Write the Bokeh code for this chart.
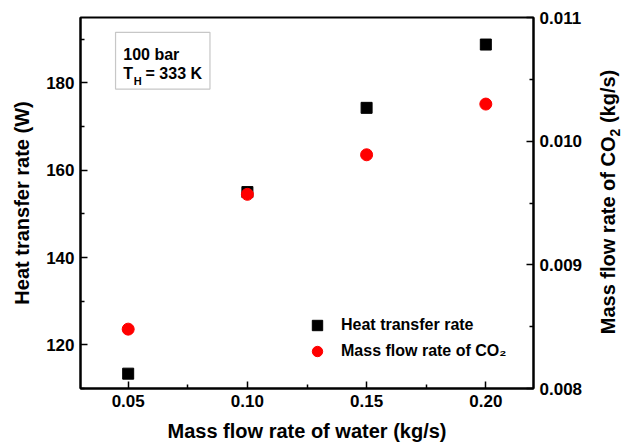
from bokeh.plotting import figure
from bokeh.layouts import row
from bokeh.models import (Range1d, LinearAxis, FixedTicker, PrintfTickFormatter,
                          Legend, LegendItem, BoxAnnotation, Label, Div)
from bokeh.embed import file_html
from bokeh.resources import INLINE

# ---- data ----
water_flow = [0.05, 0.10, 0.15, 0.20]            # kg/s
heat_rate = [113.4, 155.0, 174.3, 188.8]         # W
co2_flow = [0.00848, 0.00957, 0.00989, 0.01030]  # kg/s

x_ticks = [0.05, 0.10, 0.15, 0.20]
x_minor = [0.075, 0.125, 0.175]
y_ticks = [120, 140, 160, 180]
y_minor = [110, 130, 150, 170, 190]
y2_ticks = [0.008, 0.009, 0.010, 0.011]
y2_minor = [0.0085, 0.0095, 0.0105]

FONT = "Liberation Sans"
X0, X1 = 0.03, 0.22
Y0, Y1 = 110, 195
Y2_0, Y2_1 = 0.008, 0.011

p = figure(width=587, height=445,
           x_range=Range1d(X0, X1), y_range=Range1d(Y0, Y1),
           output_backend="svg", toolbar_location=None,
           min_border_left=80, min_border_right=54,
           min_border_top=17, min_border_bottom=57)
p.extra_y_ranges = {"co2": Range1d(Y2_0, Y2_1)}
p.xgrid.visible = False
p.ygrid.visible = False
p.outline_line_color = "black"
p.outline_line_width = 2
p.background_fill_color = "white"
p.border_fill_color = "white"


def style_axis(ax, label, ticks, minor, fmt):
    ax.axis_label = label
    ax.ticker = FixedTicker(ticks=ticks, minor_ticks=minor)
    ax.formatter = PrintfTickFormatter(format=fmt)
    ax.axis_line_width = 2
    ax.axis_line_color = "black"
    ax.major_tick_in = 7
    ax.major_tick_out = 0
    ax.minor_tick_in = 4
    ax.minor_tick_out = 0
    ax.major_tick_line_width = 1.5
    ax.minor_tick_line_width = 1.5
    ax.major_label_text_font = FONT
    ax.major_label_text_font_style = "bold"
    ax.major_label_text_font_size = "17px"
    ax.major_label_text_color = "black"
    ax.major_label_standoff = 6
    ax.axis_label_text_font = FONT
    ax.axis_label_text_font_style = "bold"
    ax.axis_label_text_font_size = "20px"
    ax.axis_label_text_color = "black"
    ax.axis_label_standoff = 10


style_axis(p.xaxis[0], "Mass flow rate of water (kg/s)", x_ticks, x_minor, "%.2f")
style_axis(p.yaxis[0], "Heat transfer rate (W)", y_ticks, y_minor, "%d")

ax2 = LinearAxis(y_range_name="co2")
style_axis(ax2, None, y2_ticks, y2_minor, "%.3f")
p.add_layout(ax2, "right")

sq = p.scatter(water_flow, heat_rate, marker="square", size=11,
               fill_color="black", line_color="black")
ci = p.scatter(water_flow, co2_flow, marker="circle", size=12,
               fill_color="red", line_color="red", y_range_name="co2")

legend = Legend(items=[LegendItem(label="Heat transfer rate", renderers=[sq]),
                       LegendItem(label="Mass flow rate of CO\u2082", renderers=[ci])],
                location=(224, 24), padding=0, spacing=0, margin=0,
                glyph_width=26, glyph_height=26, label_standoff=11,
                border_line_color=None, background_fill_alpha=0,
                label_text_font=FONT, label_text_font_style="bold",
                label_text_font_size="16px", label_text_color="black")
p.add_layout(legend)

# annotation box (top-left corner in data units)
bx0, bx1, by0, by1 = 0.0447, 0.0843, 178.6, 191.6
p.add_layout(BoxAnnotation(left=bx0, right=bx1, bottom=by0, top=by1,
                           fill_alpha=0, line_color="#444444", line_width=1.2))


def lab(text, dx, dy, size="16px"):
    p.add_layout(Label(x=bx0, y=by1, x_offset=dx, y_offset=dy, text=text,
                       text_baseline="alphabetic", text_align="left",
                       text_font=FONT, text_font_style="bold",
                       text_font_size=size, text_color="black"))


lab("100 bar", 7.7, -22.6)
lab("T", 7.7, -41.6)
lab("H", 18.3, -48.3, "11px")
lab("= 333 K", 30.0, -41.6)

# right-axis title, reading bottom-to-top as in the reference
right_title = Div(
    width=35, height=445,
    text=('<div style="position:relative;width:35px;height:445px;">'
          '<span style="position:absolute;left:50%;top:197px;'
          'transform:translate(-50%,-50%) rotate(-90deg);white-space:nowrap;'
          "font-family:'Liberation Sans';font-weight:bold;font-size:20px;"
          'color:black;line-height:1;">'
          'Mass flow rate of CO<sub style="font-size:70%;">2</sub> (kg/s)'
          '</span></div>'),
    styles={"background-color": "white"},
)

layout = row(p, right_title, spacing=0)
open("out.html", "w").write(file_html(layout, INLINE))
